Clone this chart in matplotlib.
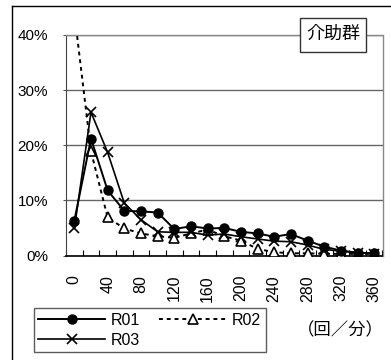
import matplotlib
matplotlib.use("Agg")
import matplotlib.pyplot as plt
from matplotlib import font_manager
from matplotlib.lines import Line2D
from matplotlib.patches import Rectangle

# rate categories (per minute) and share of each group
rates = list(range(0, 361, 20))
r01 = [6.3, 21.2, 11.8, 8.1, 8.0, 7.8, 4.8, 5.3, 4.9, 5.0, 4.3, 4.0, 3.4, 3.9, 2.7, 1.6, 0.9, 0.5, 0.4]
r02 = [44.0, 18.9, 6.9, 4.9, 4.0, 3.5, 3.2, 4.0, 4.7, 3.5, 2.7, 1.2, 0.6, 0.4, 0.4, 0.3, 0.3, 0.3, 0.3]
r03 = [4.9, 26.0, 18.7, 9.5, 6.5, 4.3, 4.2, 4.2, 3.7, 3.9, 3.4, 3.0, 2.6, 2.5, 1.9, 1.1, 0.8, 0.5, 0.3]
y_ticks = [0, 10, 20, 30, 40]
group_name = "介助群"
unit_label = "（回／分）"

names = {f.name for f in font_manager.fontManager.ttflist}
latin = "Liberation Sans Narrow" if "Liberation Sans Narrow" in names else "Liberation Sans"
plt.rcParams["font.family"] = [latin, "Noto Sans CJK JP", "DejaVu Sans"]

W, H = 391, 360
fig = plt.figure(figsize=(W / 100, H / 100), dpi=100)
ax = fig.add_axes([66 / W, 1 - 255.5 / H, 316.5 / W, 220.5 / H])

idx = list(range(len(rates)))
l1, = ax.plot(idx, r01, color="black", lw=1.4, marker="o", ms=6.5, mfc="black", label="R01", zorder=4)
l2, = ax.plot(idx, r02, color="black", lw=1.4, ls=(0, (2, 2)), marker="^", ms=7,
              mfc="white", mec="black", mew=1.2, label="R02", zorder=3)
l3, = ax.plot(idx, r03, color="black", lw=1.2, marker="x", ms=7, mew=1.2, label="R03", zorder=3)

ax.set_xlim(-0.5, len(rates) - 0.5)
ax.set_ylim(0, 40)
ax.set_xticks(idx[::2])
ax.set_xticklabels([str(r) for r in rates[::2]], rotation=90, fontsize=11.5)
ax.set_xticks([i - 0.5 for i in range(len(rates) + 1)], minor=True)
ax.tick_params(axis="x", which="major", length=0, pad=14)
ax.tick_params(axis="x", which="minor", direction="in", length=4, width=0.8)
ax.set_yticks(y_ticks)
ax.set_yticklabels([f"{v}%" for v in y_ticks], fontsize=11)
ax.tick_params(axis="y", length=2, width=0.8, pad=11, color="#555555")
ax.grid(axis="y", color="#666666", lw=1)
ax.set_axisbelow(True)
for side in ("top", "right"):
    ax.spines[side].set_color("#888888")
    ax.spines[side].set_linewidth(1)
ax.spines["left"].set_color("#444444")
ax.spines["bottom"].set_color("black")
ax.spines["bottom"].set_linewidth(1.2)

# group name box
fig.patches.append(Rectangle((300 / W, 1 - 51.5 / H), 66 / W, 34 / H, transform=fig.transFigure,
                             facecolor="white", edgecolor="#333333", lw=1, zorder=5))
fig.text(333 / W, 1 - 34.5 / H, group_name, ha="center", va="center", fontsize=13, zorder=6)

fig.text(340 / W, 1 - 330 / H, unit_label, ha="center", va="center", fontsize=12.5)

# column-wise fill: R01 / R03 in the first column, R02 in the second
leg = fig.legend([l1, l3, l2], ["R01", "R03", "R02"], loc="upper left",
                 bbox_to_anchor=(33.5 / W, 1 - 308 / H), ncol=2,
                 fontsize=11.5, frameon=True, fancybox=False, handlelength=4.2,
                 handletextpad=0.35, columnspacing=1.2, borderpad=0.3, labelspacing=0.3,
                 borderaxespad=0)
leg.get_frame().set_edgecolor("#333333")
leg.get_frame().set_linewidth(1)

# outer chart frame
fig.add_artist(Line2D([12 / W, 1.0], [1 - 6 / H, 1 - 6 / H], transform=fig.transFigure, color="black", lw=1))
fig.add_artist(Line2D([12 / W, 12 / W], [1 - 6 / H, 0], transform=fig.transFigure, color="black", lw=1))

fig.savefig("out.png", dpi=100)
